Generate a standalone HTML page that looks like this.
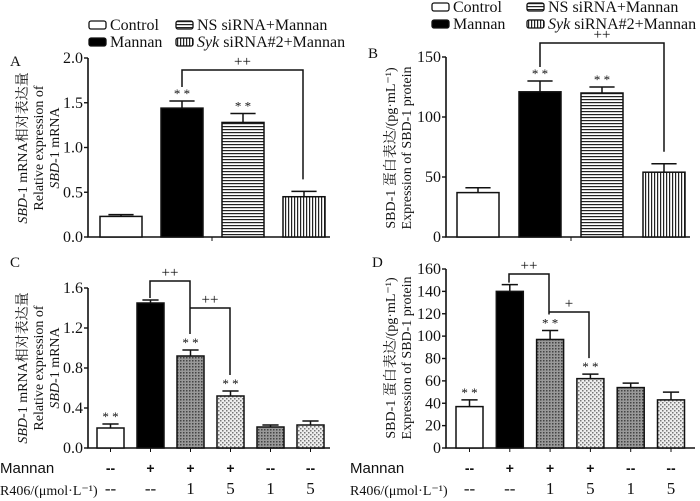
<!DOCTYPE html>
<html><head><meta charset="utf-8"><style>
body{margin:0;background:#fff}
svg{display:block;font-family:"Liberation Serif","Noto Serif CJK SC",serif}
</style></head><body>
<svg id="fig" width="700" height="501" viewBox="0 0 700 501" xmlns="http://www.w3.org/2000/svg">
<defs>
<pattern id="pH" width="4" height="3" patternUnits="userSpaceOnUse"><rect width="4" height="3" fill="#fff"/><rect y="0" width="4" height="1.2" fill="#222"/></pattern>
<pattern id="pV" width="3" height="4" patternUnits="userSpaceOnUse"><rect width="3" height="4" fill="#fff"/><rect width="1.2" height="4" fill="#222"/></pattern>
<pattern id="pD1" width="3" height="3" patternUnits="userSpaceOnUse"><rect width="3" height="3" fill="#999"/><rect width="1.5" height="1.5" fill="#444"/></pattern>
<pattern id="pD2" width="4" height="4" patternUnits="userSpaceOnUse"><rect width="4" height="4" fill="#eee"/><rect width="1.5" height="1.5" fill="#777"/><rect x="2" y="2" width="1.5" height="1.5" fill="#777"/></pattern>
</defs>
<g id="root"></g>
</svg>
<script>
// Panel A data
const aCats=["Control","Mannan","NS siRNA+Mannan","Syk siRNA#2+Mannan"];
const aVals=[0.23,1.44,1.28,0.45];
const aErr=[0.02,0.08,0.10,0.06];
const aTicks=[0,0.5,1.0,1.5,2.0];
// Panel B data
const bVals=[37,121,120,54];
const bErr=[4,9,5,7];
const bTicks=[0,50,100,150];
// Panel C data
const cVals=[0.20,1.45,0.92,0.52,0.21,0.23];
const cErr=[0.04,0.03,0.06,0.05,0.02,0.04];
const cTicks=[0,0.4,0.8,1.2,1.6];
// Panel D data
const dVals=[37,140,97,62,54,43];
const dErr=[6,6,8,4,4,7];
const dTicks=[0,20,40,60,80,100,120,140,160];
const mannanRow=["--","+","+","+","--","--"];
const r406Row=["--","--","1","5","1","5"];

const NS="http://www.w3.org/2000/svg";
const root=document.getElementById('root');
function el(tag,attrs,parent){const e=document.createElementNS(NS,tag);for(const k in attrs)e.setAttribute(k,attrs[k]);(parent||root).appendChild(e);return e;}
function txt(x,y,s,size,anchor,parent){const t=el('text',{x:x,y:y,'font-size':size,'text-anchor':anchor||'start',fill:'#111'},parent);t.textContent=s;return t;}

function panel(cfg){
  const g=el('g',{});
  
  
  const ymax=cfg.ticks[cfg.ticks.length-1];
  const Y=v=>cfg.y0-(v/ymax)*(cfg.y0-cfg.yTop);
  const ax=el('path',{d:`M${cfg.ax} ${cfg.yTop}V${cfg.y0}H${cfg.axEnd}`,stroke:'#111','stroke-width':1.6,fill:'none'},g);
  
  
  cfg.ticks.forEach(t=>{
    el('line',{x1:cfg.ax-4,x2:cfg.ax,y1:Y(t),y2:Y(t),stroke:'#111','stroke-width':1.4},g);
    const l=txt(cfg.ax-5,Y(t)+5,cfg.fmt(t),cfg.tf||16,'end',g);
    
    
  });
  cfg.vals.forEach((v,i)=>{
    const x=cfg.bx0+i*cfg.step, w=cfg.bw, cx=x+w/2;
    const b=el('rect',{x:x,y:Y(v),width:w,height:cfg.y0-Y(v),fill:cfg.fills[i],stroke:'#111','stroke-width':1.5},g);
    
    
    const top=Y(v+cfg.err[i]);
    el('path',{d:`M${cx} ${Y(v)}V${top}M${cx-w*0.3} ${top}H${cx+w*0.3}`,stroke:'#111','stroke-width':1.5,fill:'none'},g);
    if(cfg.stars[i]){const s=txt(cx,top-3,'* *',13,'middle',g);}
    if(cfg.rows){
      el('line',{x1:cx,x2:cx,y1:cfg.y0,y2:cfg.y0+4,stroke:'#111','stroke-width':1},g);
      const m=el('text',{x:cx,y:473,'font-size':14,'font-weight':'bold','text-anchor':'middle',fill:'#111','font-family':'Liberation Sans, sans-serif'},g);
      m.textContent=mannanRow[i];
      txt(cx,494,r406Row[i],17,'middle',g);
    }
  });
  return {g,Y};
}

function bracket(g,x1,y1,x2,y2,top,label){
  const p=el('path',{d:`M${x1} ${y1}V${top}H${x2}V${y2}`,stroke:'#111','stroke-width':1.5,fill:'none'},g);
  
  
  txt((x1+x2)/2,top-4,label,15,'middle',g);
}

// A
let A=panel({name:'panel-a',ax:88,axEnd:330,yTop:58,y0:237,ticks:aTicks,fmt:t=>t.toFixed(1),vals:aVals,err:aErr,bx0:100,bw:42,step:61,fills:['#fff','#000','url(#pH)','url(#pV)'],stars:[0,1,1,0]});
el('line',{x1:212,x2:212,y1:237,y2:241,stroke:'#111'},A.g);
bracket(A.g,182,A.Y(1.52)-14,303,A.Y(0.51)-12,70,'++');
txt(10,66,'A',15,'start',A.g);
// B
let B=panel({name:'panel-b',ax:446,axEnd:690,yTop:57,y0:237,ticks:bTicks,fmt:t=>String(t),vals:bVals,err:bErr,bx0:457,bw:42,step:62,fills:['#fff','#000','url(#pH)','url(#pV)'],stars:[0,1,1,0]});
el('line',{x1:571,x2:571,y1:237,y2:241,stroke:'#111'},B.g);
bracket(B.g,540,B.Y(130)-14,664,B.Y(61)-12,43,'++');
txt(368,58,'B',15,'start',B.g);
// C
const cf=['#fff','#000','url(#pD1)','url(#pD2)','url(#pD1)','url(#pD2)'];
let C=panel({name:'panel-c',ax:88,axEnd:330,yTop:288,y0:448,ticks:cTicks,fmt:t=>t.toFixed(1),vals:cVals,err:cErr,bx0:97,bw:27,step:40,fills:cf,stars:[1,0,1,1,0,0],rows:true});
bracket(C.g,150,C.Y(1.48)-2,190,C.Y(0.98)-16,281,'++');
bracket(C.g,190,281+27,230,C.Y(0.57)-16,308,'++');
txt(10,267,'C',15,'start',C.g);
// D
let D=panel({name:'panel-d',ax:446,axEnd:695,yTop:269,y0:448,ticks:dTicks,fmt:t=>String(t),vals:dVals,err:dErr,bx0:456,bw:27,step:40.3,fills:cf,stars:[1,0,1,1,0,0],rows:true,tf:16});
bracket(D.g,509,D.Y(146)-2,549,D.Y(105)-16,274,'++');
bracket(D.g,549,274+38,589,D.Y(66)-16,312,'+');
txt(372,267,'D',15,'start',D.g);

// Row labels
function rowLabel(x,y,s,sans){const t=el('text',{x:x,y:y,'font-size':sans?15:14,fill:'#111','font-family':sans?'Liberation Sans, sans-serif':'Liberation Serif, serif'});t.textContent=s;}
rowLabel(0,473,'Mannan',true);rowLabel(350,473,'Mannan',true);
rowLabel(0,495,'R406/(μmol·L⁻¹)');rowLabel(350,495,'R406/(μmol·L⁻¹)');

// Y-axis titles
function ytitle(x,y,lines,name){
  const t=el('text',{transform:`translate(${x},${y}) rotate(-90)`,'font-size':14,'text-anchor':'middle',fill:'#111'});
  
  
  lines.forEach((l,i)=>{const ts=el('tspan',{x:0,y:i*16},t);ts.innerHTML=l;});
}
ytitle(27,148,['<tspan font-style="italic">SBD</tspan>-1 mRNA相对表达量','Relative expression of','<tspan font-style="italic">SBD</tspan>-1 mRNA'],'y-axis-title-a');
ytitle(27,368,['<tspan font-style="italic">SBD</tspan>-1 mRNA相对表达量','Relative expression of','<tspan font-style="italic">SBD</tspan>-1 mRNA'],'y-axis-title-c');
ytitle(395,148,['SBD-1 蛋白表达/(pg·mL⁻¹)','Expression of SBD-1 protein'],'y-axis-title-b');
ytitle(395,358,['SBD-1 蛋白表达/(pg·mL⁻¹)','Expression of SBD-1 protein'],'y-axis-title-d');

// Legends
function legend(x0,y0,x1){
  const g=el('g',{});
  
  
  const items=[[x0,y0,'#fff','Control'],[x0,y0+17,'#000','Mannan'],[x1,y0,'url(#pH)','NS siRNA+Mannan'],[x1,y0+17,'url(#pV)','<tspan font-style="italic">Syk</tspan> siRNA#2+Mannan']];
  items.forEach(it=>{
    el('rect',{x:it[0],y:it[1]-4,width:17,height:8,rx:2,fill:it[2],stroke:'#111','stroke-width':1.3},g);
    const t=txt(it[0]+21,it[1]+5,'',16,'start',g);t.innerHTML=it[3];
  });
}
legend(89,25,176);
legend(432,7,527);
</script>
</body></html>
